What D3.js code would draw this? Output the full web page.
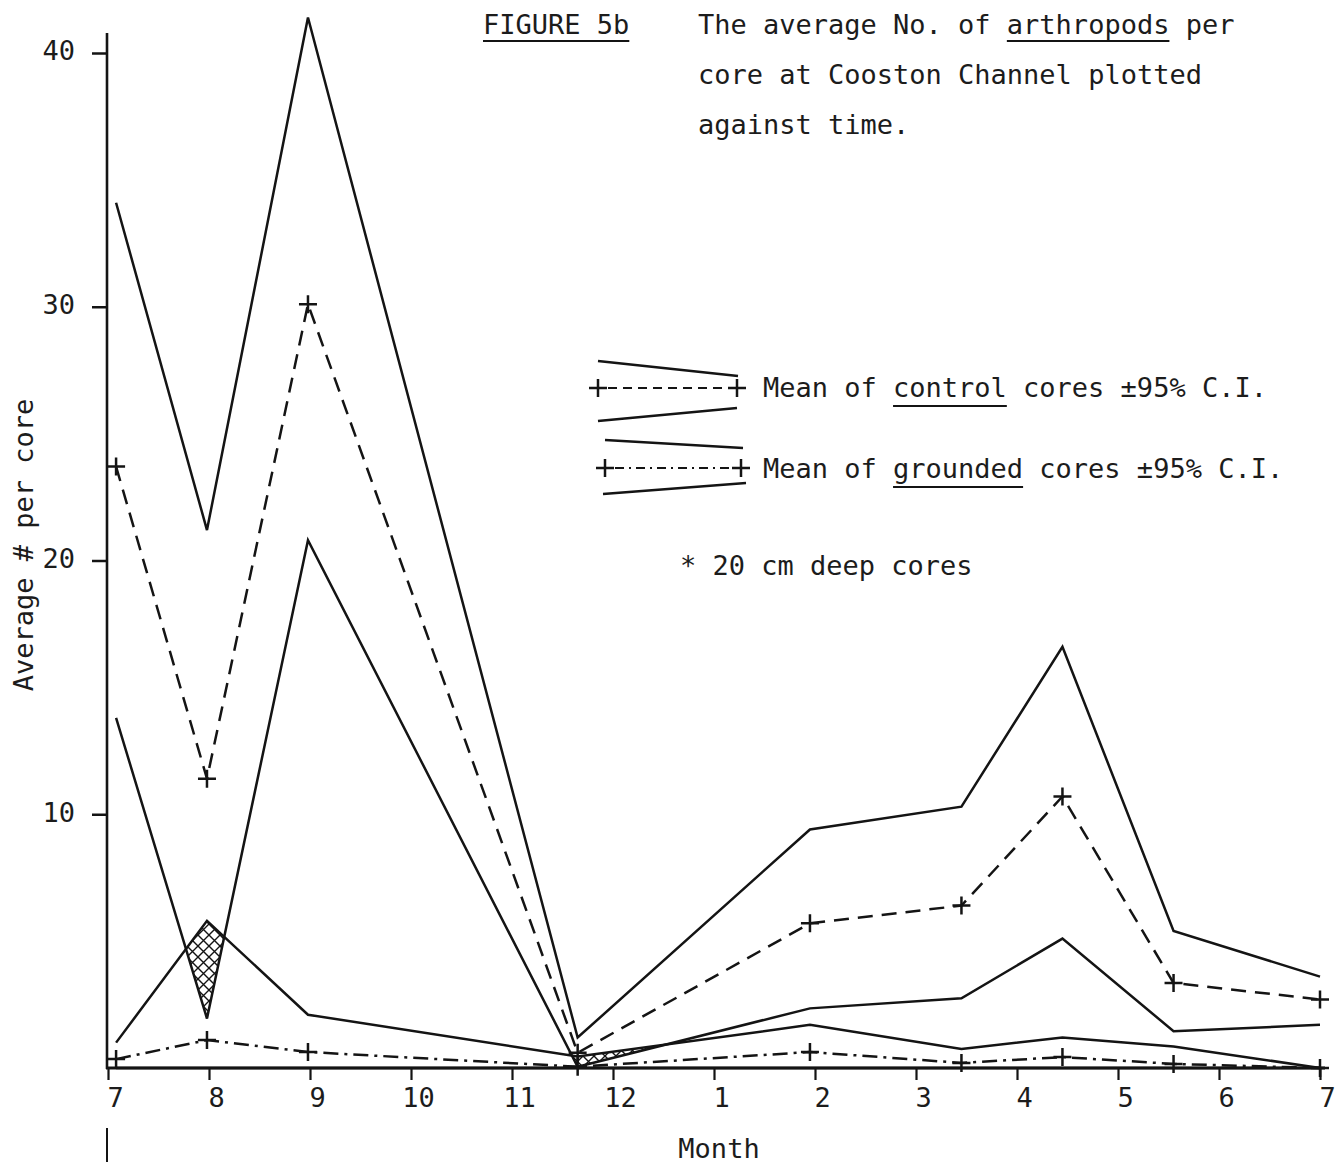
<!DOCTYPE html>
<html>
<head>
<meta charset="utf-8">
<script src="https://cdn.jsdelivr.net/npm/d3@7"></script>
<style>
  body { margin: 0; background: #fff; }
  text { font-family: 'DejaVu Sans Mono', 'Liberation Mono', monospace; fill: #1c1c1c; }
</style>
</head>
<body>
<svg id="chart" width="1341" height="1164"></svg>
<script>
// Month axis: July through the following July
const monthLabels = ["7", "8", "9", "10", "11", "12", "1", "2", "3", "4", "5", "6", "7"];
// Sampling dates, in months after the first July
const sampleTimes = [0.08, 0.98, 1.98, 4.65, 6.95, 8.45, 9.45, 10.55, 12.0];

// Control cores: mean and 95% confidence limits
const controlUpper = [34.1, 21.2, 41.4, 1.2, 9.4, 10.3, 16.6, 5.4, 3.6];
const controlMean  = [23.7, 11.4, 30.1, 0.6, 5.7, 6.4, 10.7, 3.35, 2.7];
const controlLower = [13.8, 1.95, 20.8, 0.05, 2.35, 2.75, 5.1, 1.45, 1.7];

// Grounded cores: mean and 95% confidence limits
const groundedUpper = [1.0, 5.8, 2.1, 0.45, 1.7, 0.75, 1.2, 0.85, 0.0];
const groundedMean  = [0.35, 1.1, 0.63, 0.05, 0.63, 0.2, 0.43, 0.16, 0.0];
const groundedLower = [0, 0, 0, 0, 0, 0, 0, 0, 0];

const yTicks = [10, 20, 30, 40];

const titleLines = [
  "The average No. of arthropods per",
  "core at Cooston Channel plotted",
  "against time."
];

const svg = d3.select("#chart");
const FS = 27;
const INK = "#141414";

const x = d3.scaleLinear().domain([0, 12]).range([108, 1320]);
const y = d3.scaleLinear().domain([0, 40]).range([1068, 53]);

const series = vals => vals.map((v, i) => ({ t: sampleTimes[i], v }));

// hatch pattern for overlapping confidence intervals
const defs = svg.append("defs");
const pat = defs.append("pattern")
  .attr("id", "xhatch").attr("patternUnits", "userSpaceOnUse")
  .attr("width", 11).attr("height", 11);
pat.append("path").attr("d", "M0,0L11,11M0,11L11,0")
  .attr("stroke", INK).attr("stroke-width", 1.4).attr("fill", "none");

const underGrounded = d3.area()
  .x(d => x(d.t)).y0(y(0)).y1(d => y(d.v));
defs.append("clipPath").attr("id", "gclip")
  .append("path").attr("d", underGrounded(series(groundedUpper)));

const aboveControlLower = d3.area()
  .x(d => x(d.t)).y0(d => y(d.v)).y1(0);
svg.append("path")
  .attr("d", aboveControlLower(series(controlLower)))
  .attr("fill", "url(#xhatch)")
  .attr("clip-path", "url(#gclip)");

// axes
const yAxis = d3.axisLeft(y).tickValues(yTicks).tickSize(15).tickSizeOuter(0).tickPadding(17);
const gy = svg.append("g").attr("transform", `translate(${x(0) - 1},0)`).call(yAxis);
gy.select(".domain").remove();
gy.selectAll(".tick line").attr("stroke", INK).attr("stroke-width", 2.5);
gy.selectAll(".tick text").attr("font-size", FS).attr("font-family", null).attr("fill", null).attr("dy", "0.25em");

const xAxis = d3.axisBottom(x).tickValues(d3.range(13)).tickFormat(i => monthLabels[i])
  .tickSize(12).tickSizeOuter(0).tickPadding(8);
const gx = svg.append("g").attr("transform", `translate(0,${y(0)})`).call(xAxis);
gx.select(".domain").remove();
gx.selectAll(".tick line").attr("stroke", INK).attr("stroke-width", 2.2);
gx.selectAll(".tick text").attr("font-size", FS).attr("font-family", null).attr("fill", null).attr("dx", 7);

// axis lines
svg.append("line").attr("x1", x(0) - 1).attr("x2", x(0) - 1).attr("y1", 33).attr("y2", y(0) + 1)
  .attr("stroke", INK).attr("stroke-width", 2.6);
svg.append("line").attr("x1", x(0) - 2).attr("x2", 1325).attr("y1", y(0)).attr("y2", y(0))
  .attr("stroke", INK).attr("stroke-width", 3);
svg.append("line").attr("x1", x(0) - 1).attr("x2", x(0) - 1).attr("y1", 1128).attr("y2", 1162)
  .attr("stroke", INK).attr("stroke-width", 2);

// series lines
const line = d3.line().x(d => x(d.t)).y(d => y(d.v));
const drawLine = (vals, dash) => svg.append("path")
  .attr("d", line(series(vals)))
  .attr("fill", "none").attr("stroke", INK).attr("stroke-width", 2.5)
  .attr("stroke-linejoin", "miter")
  .attr("stroke-dasharray", dash);

drawLine(controlUpper, null);
drawLine(controlLower, null);
drawLine(groundedUpper, null);
drawLine(groundedLower, null);
drawLine(controlMean, "15,9");
drawLine(groundedMean, "15,6,3,6");

const plus = "M-9,0H9M0,-9V9";
const drawMarkers = vals => svg.append("g").selectAll("path")
  .data(series(vals)).join("path")
  .attr("d", plus)
  .attr("transform", d => `translate(${x(d.t)},${y(d.v)})`)
  .attr("stroke", INK).attr("stroke-width", 2.5).attr("fill", "none");
drawMarkers(controlMean);
drawMarkers(groundedMean);

// text helpers
function typed(str, px, py, opts = {}) {
  const t = svg.append("text").attr("x", px).attr("y", py)
    .attr("font-size", opts.size || FS).text(str);
  if (opts.anchor) t.attr("text-anchor", opts.anchor);
  if (opts.transform) t.attr("transform", opts.transform);
  return t;
}
function underline(textSel, str, fromChar, nChars, offset) {
  const cw = textSel.node().getComputedTextLength() / str.length;
  const x0 = +textSel.attr("x") + fromChar * cw;
  const yy = +textSel.attr("y") + offset;
  svg.append("line").attr("x1", x0).attr("x2", x0 + nChars * cw)
    .attr("y1", yy).attr("y2", yy).attr("stroke", INK).attr("stroke-width", 2.2);
  return cw;
}

// title block
const fig = typed("FIGURE 5b", 483, 34);
underline(fig, "FIGURE 5b", 0, 9, 7);
const t1 = typed(titleLines[0], 698, 34);
underline(t1, titleLines[0], titleLines[0].indexOf("arthropods"), 10, 7);
typed(titleLines[1], 698, 84);
typed(titleLines[2], 698, 134);

// legend
function legendEntry(upper, mean, lower, dash, label, word, baseY) {
  svg.append("line").attr("x1", upper[0]).attr("y1", upper[1]).attr("x2", upper[2]).attr("y2", upper[3])
    .attr("stroke", INK).attr("stroke-width", 2.5);
  svg.append("line").attr("x1", lower[0]).attr("y1", lower[1]).attr("x2", lower[2]).attr("y2", lower[3])
    .attr("stroke", INK).attr("stroke-width", 2.5);
  svg.append("line").attr("x1", mean[0] + 10).attr("y1", mean[2]).attr("x2", mean[1] - 10).attr("y2", mean[2])
    .attr("stroke", INK).attr("stroke-width", 2.2).attr("stroke-dasharray", dash);
  [mean[0], mean[1]].forEach(px => svg.append("path").attr("d", plus)
    .attr("transform", `translate(${px},${mean[2]})`)
    .attr("stroke", INK).attr("stroke-width", 2.5).attr("fill", "none"));
  const txt = typed(label, 763, baseY);
  underline(txt, label, label.indexOf(word), word.length, 9);
}
legendEntry([598, 361, 738, 376], [598, 737, 388], [598, 421, 737, 408], "9,6",
  "Mean of control cores ±95% C.I.", "control", 397);
legendEntry([605, 440, 743, 448], [605, 741, 468], [603, 494, 746, 483], "9,5,2,5",
  "Mean of grounded cores ±95% C.I.", "grounded", 478);

typed("* 20 cm deep cores", 680, 575);

// axis titles
typed("Month", 719, 1158, { anchor: "middle" });
typed("Average # per core", 0, 0, { anchor: "middle", transform: "translate(33,545) rotate(-90)" });
</script>
</body>
</html>
